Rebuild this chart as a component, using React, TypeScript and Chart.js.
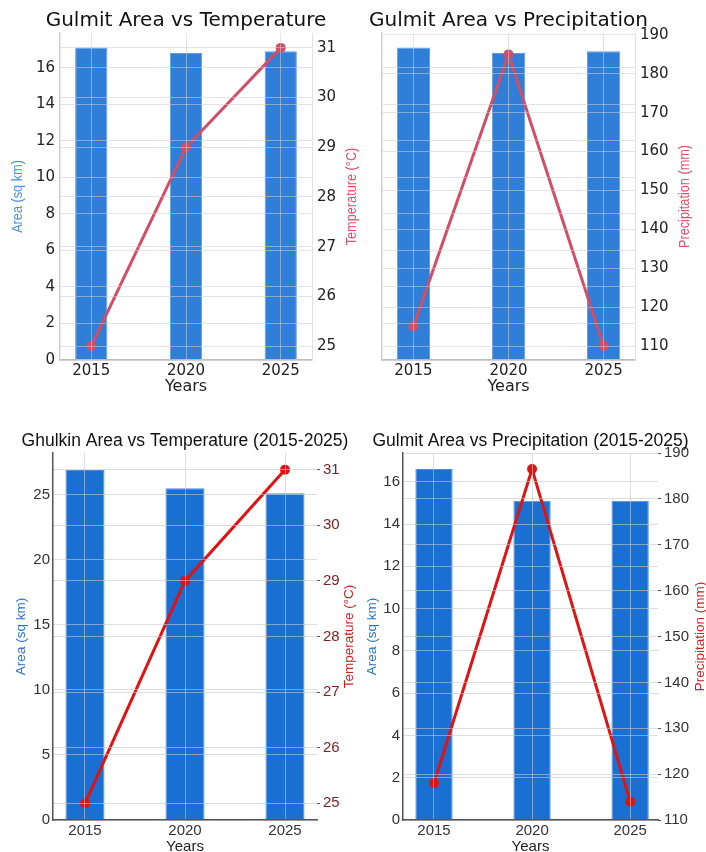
import React, { useEffect, useRef } from "react";
import { Chart, registerables } from "chart.js";
Chart.register(...registerables);

// ---------- data ----------
const years = [2015, 2020, 2025];
const yearLabels = ["2015", "2020", "2025"];

const gulmitAreaTop = [17.1, 16.8, 16.9];
const gulmitTempTop = [25, 29, 31];
const gulmitPrecipTop = [115, 185, 110];

const ghulkinArea = [26.9, 25.5, 25.1];
const ghulkinTemp = [25, 29, 31];

const gulmitAreaBottom = [16.6, 15.1, 15.1];
const gulmitPrecipBottom = [118, 186.5, 114];

const areaTicksGulmit = [0, 2, 4, 6, 8, 10, 12, 14, 16];
const areaTicksGhulkin = [0, 5, 10, 15, 20, 25];
const tempTicks = [25, 26, 27, 28, 29, 30, 31];
const precipTicks = [110, 120, 130, 140, 150, 160, 170, 180, 190];

// ---------- panel setup ----------
type Box = { left: number; top: number; width: number; height: number };
type Area = { left: number; right: number; top: number; bottom: number };

type PanelCfg = {
  box: Box;
  area: Area;
  title: string;
  titleFont: any;
  titleColor: string;
  titleY: number;
  xMin: number;
  xMax: number;
  barVals: number[];
  lineVals: number[];
  barColor: string;
  barEdge: string;
  barPct: number;
  lineColor: string;
  lineWidth: number;
  pointRadius: number;
  yMin: number;
  yMax: number;
  yTicks: number[];
  yShowLabels: boolean;
  y1Min: number;
  y1Max: number;
  y1Ticks: number[];
  tickFont: any;
  tickColor: string;
  y1TickColor: string;
  axisTitleFont: any;
  axisTitleScale: number;
  xTitleFont: any;
  leftTitle: string | null;
  leftTitleColor: string;
  leftTitleX: number;
  rightTitle: string;
  rightTitleColor: string;
  rightTitleX: number;
  xTitleY: number;
  gridColor: string;
  leftBorder: string;
  bottomBorder: string;
  rightBorder: string | null;
  rightTickMarks: boolean;
  leftPad: number;
  rightPad: number;
  xPad: number;
};

function fontStr(f: any) {
  return `${f.weight || "normal"} ${f.size}px ${f.family}`;
}

function vText(ctx: any, text: string, x: number, y: number, sx: number) {
  ctx.save();
  ctx.translate(x, y);
  ctx.rotate(-Math.PI / 2);
  ctx.scale(sx, 1);
  ctx.fillText(text, 0, 0);
  ctx.restore();
}

const panelTexts = {
  id: "panelTexts",
  afterDraw(chart: any, _args: any, o: any) {
    const ctx = chart.ctx;
    const a = chart.chartArea;
    const cy = (a.top + a.bottom) / 2;
    ctx.save();
    ctx.textAlign = "center";
    ctx.textBaseline = "middle";
    ctx.font = fontStr(o.titleFont);
    ctx.fillStyle = o.titleColor;
    ctx.fillText(o.title, (a.left + a.right) / 2, o.titleY);
    ctx.font = fontStr(o.axisFont);
    if (o.leftTitle) {
      ctx.fillStyle = o.leftColor;
      vText(ctx, o.leftTitle, o.leftX, cy, o.sx);
    }
    ctx.fillStyle = o.rightColor;
    vText(ctx, o.rightTitle, o.rightX, cy, o.sx);
    ctx.restore();
  },
};

function buildConfig(c: PanelCfg): any {
  const b = c.box;
  const a = c.area;
  const leftW = a.left - b.left;
  const rightW = b.left + b.width - a.right;
  const topH = a.top - b.top;
  const bottomH = b.top + b.height - a.bottom;
  const xtLH = c.xTitleFont.size * 1.2;
  const xTitlePad = b.top + b.height - c.xTitleY - xtLH / 2;

  const fixV = (w: number) => (s: any) => {
    s.width = w;
    s.paddingTop = 0;
    s.paddingBottom = 0;
  };

  return {
    type: "bar",
    plugins: [panelTexts],
    data: {
      datasets: [
        {
          type: "line",
          data: years.map((x, i) => ({ x, y: c.lineVals[i] })),
          xAxisID: "x",
          yAxisID: "y1",
          borderColor: c.lineColor,
          backgroundColor: c.lineColor,
          borderWidth: c.lineWidth,
          pointRadius: c.pointRadius,
          pointBorderWidth: 0,
          pointBackgroundColor: c.lineColor,
          tension: 0,
          order: 0,
        },
        {
          type: "bar",
          data: years.map((x, i) => ({ x, y: c.barVals[i] })),
          xAxisID: "x",
          yAxisID: "y",
          backgroundColor: c.barColor,
          borderColor: c.barEdge,
          borderWidth: 1,
          barPercentage: c.barPct,
          categoryPercentage: 1,
          order: 1,
        },
      ],
    },
    options: {
      responsive: false,
      animation: false,
      devicePixelRatio: 1,
      layout: { padding: { top: topH, left: 0, right: 0, bottom: 0 } },
      plugins: {
        legend: { display: false },
        tooltip: { enabled: false },
        title: { display: false },
        panelTexts: {
          title: c.title,
          titleFont: c.titleFont,
          titleColor: c.titleColor,
          titleY: c.titleY - b.top,
          axisFont: c.axisTitleFont,
          sx: c.axisTitleScale,
          leftTitle: c.leftTitle,
          leftColor: c.leftTitleColor,
          leftX: c.leftTitleX - b.left,
          rightTitle: c.rightTitle,
          rightColor: c.rightTitleColor,
          rightX: c.rightTitleX - b.left,
        },
      },
      scales: {
        x: {
          type: "linear",
          position: "bottom",
          min: c.xMin,
          max: c.xMax,
          offset: false,
          afterBuildTicks: (s: any) => {
            s.ticks = years.map((v) => ({ value: v }));
          },
          afterFit: (s: any) => {
            s.height = bottomH;
            s.paddingLeft = 0;
            s.paddingRight = 0;
          },
          ticks: {
            callback: (v: any) => {
              const i = years.indexOf(Number(v));
              return i >= 0 ? yearLabels[i] : "";
            },
            font: c.tickFont,
            color: c.tickColor,
            padding: c.xPad,
            maxRotation: 0,
            autoSkip: false,
          },
          grid: {
            offset: false,
            color: c.gridColor,
            drawTicks: false,
            z: 1,
          },
          border: { display: true, color: c.bottomBorder, width: 1.5, z: 2 },
          title: {
            display: true,
            text: "Years",
            font: c.xTitleFont,
            color: "#222",
            padding: { top: 0, bottom: xTitlePad },
          },
        },
        y: {
          type: "linear",
          position: "left",
          min: c.yMin,
          max: c.yMax,
          afterBuildTicks: (s: any) => {
            s.ticks = c.yTicks.map((v) => ({ value: v }));
          },
          afterFit: fixV(leftW),
          ticks: {
            display: c.yShowLabels,
            font: c.tickFont,
            color: c.tickColor,
            padding: c.leftPad,
          },
          grid: { color: c.gridColor, drawTicks: false, z: 1 },
          border: { display: true, color: c.leftBorder, width: 1.5, z: 2 },
          title: { display: false },
        },
        y1: {
          type: "linear",
          position: "right",
          min: c.y1Min,
          max: c.y1Max,
          afterBuildTicks: (s: any) => {
            s.ticks = c.y1Ticks.map((v) => ({ value: v }));
          },
          afterFit: fixV(rightW),
          ticks: {
            font: c.tickFont,
            color: c.y1TickColor,
            padding: c.rightPad,
          },
          grid: {
            color: c.gridColor,
            drawTicks: c.rightTickMarks,
            tickLength: 3,
            tickColor: "#555",
            z: 1,
          },
          border: {
            display: !!c.rightBorder,
            color: c.rightBorder || "#fff",
            width: 1,
            z: 2,
          },
          title: { display: false },
        },
      },
    },
  };
}

function Panel({ cfg }: { cfg: PanelCfg }) {
  const ref = useRef<HTMLCanvasElement>(null);
  useEffect(() => {
    const chart = new Chart(ref.current as HTMLCanvasElement, buildConfig(cfg));
    return () => chart.destroy();
  }, []);
  return (
    <canvas
      ref={ref}
      width={cfg.box.width}
      height={cfg.box.height}
      style={{
        position: "absolute",
        left: cfg.box.left,
        top: cfg.box.top,
        width: cfg.box.width,
        height: cfg.box.height,
      }}
    />
  );
}

const dv = "'DejaVu Sans', sans-serif";
const lib = "'Liberation Sans', Arial, sans-serif";

const topCommon = {
  titleFont: { family: dv, size: 20, weight: "normal" },
  titleColor: "#111",
  titleY: 20.6,
  barColor: "#2f7ed8",
  barEdge: "#5f9ce2",
  lineColor: "#d44d66",
  lineWidth: 3,
  pointRadius: 5,
  tickFont: { family: dv, size: 15 },
  tickColor: "#222",
  y1TickColor: "#222",
  axisTitleFont: { family: lib, size: 15.5 },
  axisTitleScale: 0.82,
  xTitleFont: { family: dv, size: 16 },
  leftTitleColor: "#4a90dc",
  rightTitleColor: "#d9546c",
  xTitleY: 387,
  gridColor: "rgba(205,205,205,0.55)",
  leftBorder: "#cfcfcf",
  bottomBorder: "#bdbdbd",
  rightBorder: "#e2e2e2",
  rightTickMarks: false,
  leftPad: 5,
  rightPad: 5,
  xPad: 2,
  yMin: 0,
  yMax: 17.9,
  yTicks: areaTicksGulmit,
  xMin: 2013.35,
  xMax: 2026.65,
};

const bottomCommon = {
  titleFont: { family: lib, size: 17.5, weight: "normal" },
  titleColor: "#111",
  titleY: 441,
  barColor: "#1a6fd3",
  barEdge: "#4a8ee0",
  lineColor: "#e01212",
  lineWidth: 3,
  pointRadius: 5,
  tickFont: { family: lib, size: 15 },
  tickColor: "#333",
  axisTitleFont: { family: lib, size: 13.5 },
  axisTitleScale: 1,
  xTitleFont: { family: lib, size: 15 },
  leftTitleColor: "#2a72c8",
  rightTitleColor: "#cc2020",
  xTitleY: 847,
  gridColor: "rgba(200,200,200,0.6)",
  leftBorder: "#555",
  bottomBorder: "#555",
  rightBorder: null,
  rightTickMarks: true,
  leftPad: 3,
  rightPad: 3,
  xPad: 2,
};

const panels: PanelCfg[] = [
  {
    ...topCommon,
    box: { left: 0, top: 0, width: 395, height: 400 },
    area: { left: 60, right: 312, top: 33, bottom: 360 },
    title: "Gulmit Area vs Temperature",
    barVals: gulmitAreaTop,
    lineVals: gulmitTempTop,
    barPct: 0.34,
    yShowLabels: true,
    y1Min: 24.72,
    y1Max: 31.3,
    y1Ticks: tempTicks,
    leftTitle: "Area (sq km)",
    leftTitleX: 18,
    rightTitle: "Temperature (°C)",
    rightTitleX: 352,
  } as PanelCfg,
  {
    ...topCommon,
    box: { left: 353, top: 0, width: 353, height: 400 },
    area: { left: 382, right: 635, top: 33, bottom: 360 },
    title: "Gulmit Area vs Precipitation",
    barVals: gulmitAreaTop,
    lineVals: gulmitPrecipTop,
    barPct: 0.35,
    yShowLabels: false,
    y1Min: 106.4,
    y1Max: 190.5,
    y1Ticks: precipTicks,
    leftTitle: null,
    leftTitleX: 370,
    rightTitle: "Precipitation (mm)",
    rightTitleX: 685,
  } as PanelCfg,
  {
    ...bottomCommon,
    box: { left: 0, top: 420, width: 400, height: 445 },
    area: { left: 53, right: 317, top: 453, bottom: 820 },
    title: "Ghulkin Area vs Temperature (2015-2025)",
    xMin: 2013.4,
    xMax: 2026.6,
    barVals: ghulkinArea,
    lineVals: ghulkinTemp,
    barPct: 0.39,
    yMin: 0,
    yMax: 28.2,
    yTicks: areaTicksGhulkin,
    yShowLabels: true,
    y1Min: 24.7,
    y1Max: 31.3,
    y1Ticks: tempTicks,
    y1TickColor: "#7a1e1e",
    leftTitle: "Area (sq km)",
    leftTitleX: 21,
    rightTitle: "Temperature (°C)",
    rightTitleX: 349,
  } as PanelCfg,
  {
    ...bottomCommon,
    box: { left: 353, top: 420, width: 360, height: 445 },
    area: { left: 403, right: 658, top: 453, bottom: 820 },
    title: "Gulmit Area vs Precipitation (2015-2025)",
    xMin: 2013.42,
    xMax: 2026.42,
    barVals: gulmitAreaBottom,
    lineVals: gulmitPrecipBottom,
    barPct: 0.38,
    yMin: 0,
    yMax: 17.36,
    yTicks: areaTicksGulmit,
    yShowLabels: true,
    y1Min: 110,
    y1Max: 190,
    y1Ticks: precipTicks,
    y1TickColor: "#333",
    leftTitle: "Area (sq km)",
    leftTitleX: 372,
    rightTitle: "Precipitation (mm)",
    rightTitleX: 700,
  } as PanelCfg,
];

export default function App() {
  return (
    <div
      style={{
        position: "absolute",
        left: 0,
        top: 0,
        width: 706,
        height: 852,
        overflow: "hidden",
        background: "#fff",
      }}
    >
      {panels.map((p, i) => (
        <Panel key={i} cfg={p} />
      ))}
    </div>
  );
}
